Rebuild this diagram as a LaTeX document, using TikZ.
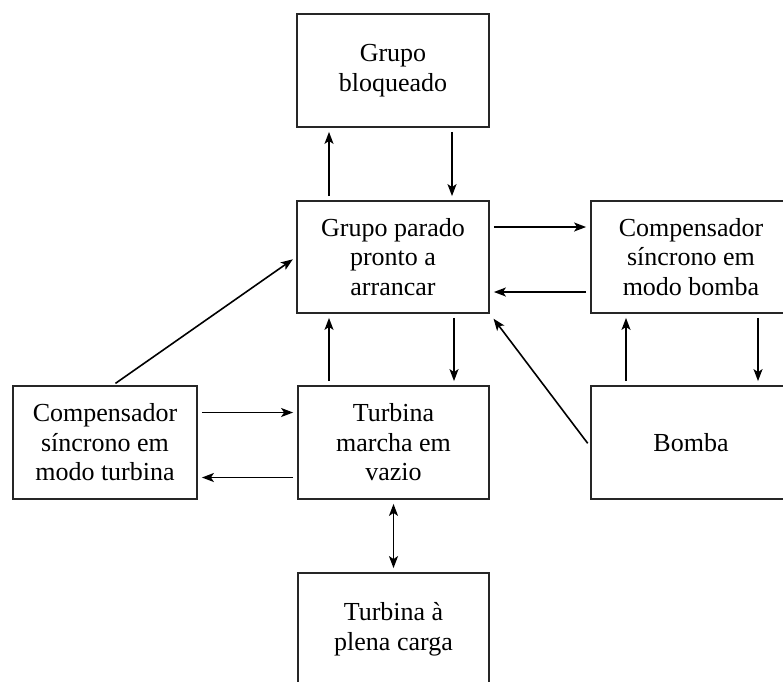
\documentclass[tikz,border=0pt]{standalone}
\usepackage{fontspec}
\setmainfont{Liberation Serif}
\usetikzlibrary{arrows.meta}
\begin{document}
\begin{tikzpicture}[x=1pt,y=1pt,
  box/.style={draw=black!85,line width=1.8pt,inner sep=0pt,align=center,
    font=\fontsize{26}{29.5}\selectfont},
  tip/.style={Stealth[length=12pt,width=9pt,inset=3pt]},
  arr/.style={line width=1.6pt,-{Stealth[length=12pt,width=9pt,inset=3pt]},shorten <=4pt,shorten >=4pt},
  darr/.style={line width=1.6pt,{Stealth[length=12pt,width=9pt,inset=3pt]}-{Stealth[length=12pt,width=9pt,inset=3pt]},shorten <=4pt,shorten >=4pt}]
\clip (0,0) rectangle (783,-681);
\fill[white] (0,0) rectangle (783,-681);
\node[box,minimum width=192pt,minimum height=113pt] (bloq) at (393,-70.5) {Grupo\\bloqueado};
\node[box,minimum width=192pt,minimum height=112pt] (parado) at (393,-257) {Grupo parado\\pronto a\\arrancar};
\node[box,minimum width=200pt,minimum height=112pt] (cbomba) at (691,-257) {Compensador\\síncrono em\\modo bomba};
\node[box,minimum width=184pt,minimum height=113pt] (cturb) at (105,-442.5) {Compensador\\síncrono em\\modo turbina};
\node[box,minimum width=191pt,minimum height=113pt] (marcha) at (393.5,-442.5) {Turbina\\marcha em\\vazio};
\node[box,minimum width=200pt,minimum height=113pt] (bomba) at (691,-442.5) {Bomba};
\node[box,minimum width=191pt,minimum height=113pt] (plena) at (393.5,-629.5) {Turbina à\\plena carga};
% parado <-> bloq
\draw[arr] ([xshift=-64pt]parado.north) -- ([xshift=-64pt]bloq.south);
\draw[arr] ([xshift=59pt]bloq.south) -- ([xshift=59pt]parado.north);
% parado <-> cbomba
\draw[arr] ([yshift=30pt]parado.east) -- ([yshift=30pt]cbomba.west);
\draw[arr] ([yshift=-35pt]cbomba.west) -- ([yshift=-35pt]parado.east);
% marcha <-> parado
\draw[arr] ([xshift=-64.5pt]marcha.north) -- ([xshift=-64pt]parado.south);
\draw[arr] ([xshift=61pt]parado.south) -- ([xshift=60.5pt]marcha.north);
% bomba <-> cbomba
\draw[arr] ([xshift=-65pt]bomba.north) -- ([xshift=-65pt]cbomba.south);
\draw[arr] ([xshift=67pt]cbomba.south) -- ([xshift=67pt]bomba.north);
% cturb <-> marcha
\draw[arr] ([yshift=30pt]cturb.east) -- ([yshift=30pt]marcha.west);
\draw[arr] ([yshift=-35pt]marcha.west) -- ([yshift=-35pt]cturb.east);
% marcha <-> plena
\draw[darr] (marcha.south) -- (plena.north);
% diagonals
\draw[arr,shorten <=3pt,shorten >=4pt] ([xshift=8pt]cturb.north) -- (parado.west);
\draw[arr,shorten <=4pt,shorten >=6pt] ([yshift=-4pt]bomba.west) -- (parado.south east);
\end{tikzpicture}
\end{document}
